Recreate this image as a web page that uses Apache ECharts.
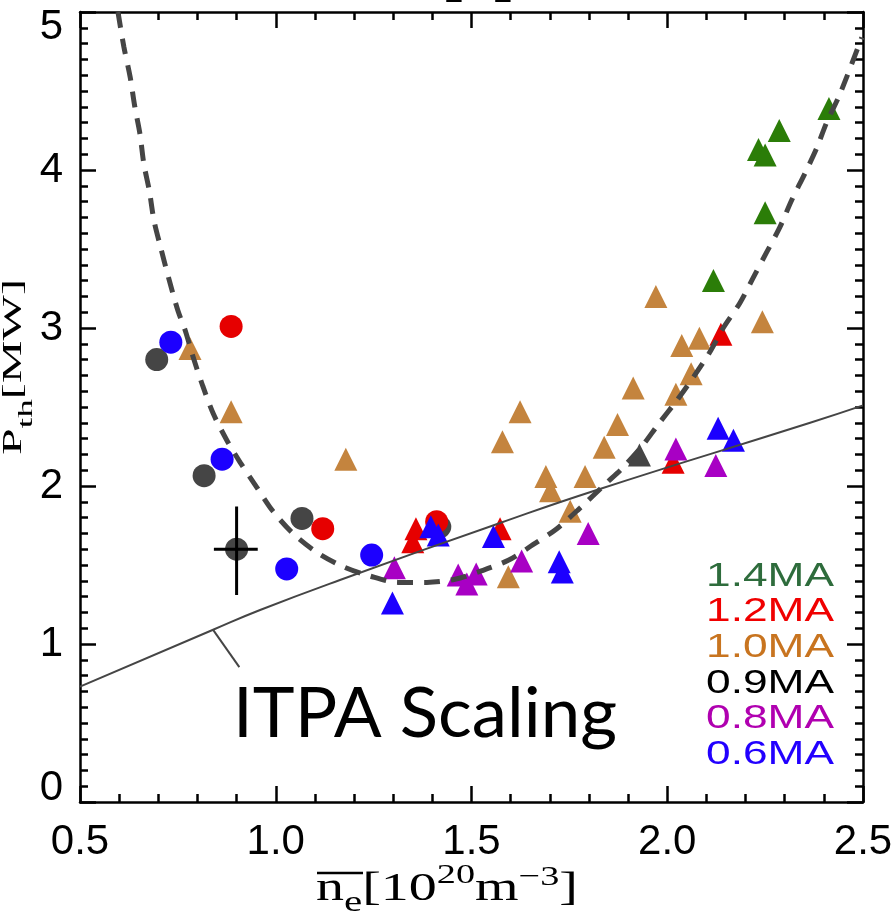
<!DOCTYPE html>
<html>
<head>
<meta charset="utf-8">
<script src="https://cdn.jsdelivr.net/npm/echarts@6/dist/echarts.min.js"></script>
<style>
  html, body { margin: 0; padding: 0; background: #ffffff; }
  #chart { width: 894px; height: 916px; }
</style>
</head>
<body>
<div id="chart"></div>
<script>
// ---- axes ----
const nTickLabels = ['0.5', '1.0', '1.5', '2.0', '2.5'];
const pTickLabels = ['0', '1', '2', '3', '4', '5'];

// ---- plasma current groups (legend text + colours) ----
const currents = ['1.4MA', '1.2MA', '1.0MA', '0.9MA', '0.8MA', '0.6MA'];
const currentTextColors = ['#2e6c3c', '#f00000', '#c8741f', '#000000', '#b000b0', '#2200ff'];
const green = '#2b7d08', red = '#e60000', orange = '#c4843e', dark = '#454545', magenta = '#a800c4', blue = '#1c00ff';

// ---- measured thresholds [density 1e20 m^-3, P_th MW] ----
const circ09 = [[0.696, 2.80], [0.817, 2.065], [0.900, 1.60], [1.067, 1.795], [1.419, 1.742]];
const circ12 = [[0.886, 3.01], [1.12, 1.73], [1.411, 1.774]];
const circ06 = [[0.732, 2.91], [0.863, 2.17], [1.028, 1.475], [1.245, 1.563]];

const tri10 = [[0.781, 2.87], [0.886, 2.47], [1.179, 2.17], [1.579, 2.28], [1.594, 1.426], [1.624, 2.47],
  [1.69, 2.06], [1.702, 1.97], [1.752, 1.84], [1.79, 2.06], [1.839, 2.245], [1.873, 2.39], [1.913, 2.62],
  [1.971, 3.20], [2.022, 2.58], [2.037, 2.89], [2.061, 2.71], [2.082, 2.935], [2.243, 3.04]];
const tri14 = [[2.118, 3.30], [2.233, 4.13], [2.25, 4.095], [2.25, 3.73], [2.286, 4.25], [2.413, 4.39]];
const tri12 = [[1.358, 1.73], [1.35, 1.647], [1.573, 1.73], [2.015, 2.15], [2.137, 2.96]];
const tri09 = [[1.929, 2.196]];
const tri08 = [[1.303, 1.483], [1.466, 1.437], [1.488, 1.38], [1.512, 1.443], [1.628, 1.525], [1.798, 1.70],
  [2.022, 2.234], [2.124, 2.13]];
const tri06 = [[1.298, 1.26], [1.396, 1.742], [1.415, 1.69], [1.556, 1.68], [1.724, 1.52], [1.732, 1.456],
  [2.13, 2.365], [2.169, 2.29]];

// error bars of the reference point
const errH = [[0.842, 1.60], [0.954, 1.60]];
const errV = [[0.900, 1.31], [0.900, 1.87]];

// ITPA scaling line and its label pointer
const itpaLine = [[0.5, 0.73], [0.84, 1.09], [0.96, 1.215], [1.164, 1.405], [1.573, 1.766], [1.82, 1.975],
  [2.365, 2.40], [2.5, 2.51]];
const itpaPointer = [[0.840, 1.089], [0.907, 0.854]];

// dashed U-shaped trend
const trendCurve = [[0.597, 5.0], [0.612, 4.78], [0.628, 4.59], [0.640, 4.40], [0.653, 4.23], [0.663, 4.04],
  [0.677, 3.87], [0.689, 3.68], [0.706, 3.51], [0.726, 3.32], [0.750, 3.11], [0.768, 2.99], [0.791, 2.80],
  [0.814, 2.63], [0.840, 2.46], [0.875, 2.29], [0.909, 2.15], [0.952, 1.99], [0.993, 1.84], [1.044, 1.70],
  [1.105, 1.58], [1.172, 1.49], [1.241, 1.43], [1.313, 1.39], [1.386, 1.39], [1.458, 1.41], [1.522, 1.46],
  [1.594, 1.53], [1.658, 1.63], [1.718, 1.73], [1.777, 1.86], [1.845, 2.02], [1.884, 2.11], [1.935, 2.25],
  [1.977, 2.39], [2.024, 2.54], [2.067, 2.69], [2.107, 2.84], [2.143, 3.00], [2.186, 3.16], [2.22, 3.32],
  [2.254, 3.48], [2.288, 3.64], [2.318, 3.81], [2.352, 3.98], [2.382, 4.14], [2.407, 4.30], [2.441, 4.48],
  [2.497, 4.84]];

// ---- text helpers ----
const SANS = '"Liberation Sans", Arial, Helvetica, sans-serif';
const SERIF = '"Liberation Serif", "Times New Roman", serif';
const LATO = 'Lato, "Open Sans", sans-serif';
const ctx2d = document.createElement('canvas').getContext('2d');
function advance(text, size, family, weight) {
  ctx2d.font = (weight || 'normal') + ' ' + size + 'px ' + family;
  return ctx2d.measureText(text).width;
}
// pieces laid out along one baseline (local y = 0), stretched to a run length
function textRun(pieces, family, length, color, weight, mid) {
  const widths = pieces.map(p => advance(p.text, p.size, family, weight));
  const total = widths.reduce((a, b) => a + b, 0);
  const s = length ? length / total : 1;
  let x = 0;
  return pieces.map((p, i) => {
    const el = {
      type: 'text', x: x + (p.dx || 0), y: (p.dy || 0) - mid * p.size, scaleX: s, silent: true,
      style: {
        text: p.text, fill: color, font: (weight || 'normal') + ' ' + p.size + 'px ' + family,
        align: 'left', verticalAlign: 'middle', textAlign: 'left', textVerticalAlign: 'middle'
      }
    };
    x += widths[i] * s;
    return el;
  });
}

const legendGraphics = currents.map((c, i) => ({
  type: 'group', x: 706, y: 588 + 35.6 * i,
  children: textRun([{ text: c, size: 33 }], SANS, 128, currentTextColors[i], 'normal', 0.34)
}));

const graphics = [
  // partly visible panel tag above the frame
  { type: 'group', x: 443, y: -6, children: textRun([{ text: '[a]', size: 58 }], SANS, 0, '#000', 'bold', 0.34) },
  // y axis title
  { type: 'group', x: 23, y: 455, rotation: Math.PI / 2,
    children: textRun([{ text: 'P', size: 27 }, { text: 'th', size: 21, dy: 10 }, { text: '[MW]', size: 27 }],
      SERIF, 176, '#000', 'normal', 0.33) },
  // x axis title
  { type: 'group', x: 316, y: 903,
    children: textRun([{ text: 'n', size: 41 }, { text: 'e', size: 30, dy: 10 }, { text: '[', size: 41 },
      { text: '10', size: 41 }, { text: '20', size: 28, dy: -18 }, { text: 'm', size: 41 },
      { text: '\u22123', size: 28, dy: -16 }, { text: ']', size: 41 }], SERIF, 262, '#000', 'normal', 0.33) },
  { type: 'line', silent: true, shape: { x1: 317, y1: 873, x2: 363, y2: 873 }, style: { stroke: '#000', lineWidth: 2.5 } },
  // scaling annotation
  { type: 'group', x: 233, y: 738, children: textRun([{ text: 'ITPA Scaling', size: 70 }], LATO, 384, '#000', 'normal', 0.34) }
].concat(legendGraphics);

// ---- chart ----
const chart = echarts.init(document.getElementById('chart'), null, { renderer: 'canvas' });

function scatter(data, symbol, color) {
  return {
    type: 'scatter', data: data, symbol: symbol, symbolSize: 23, z: 2, silent: true,
    itemStyle: { color: color, opacity: 1 }, emphasis: { disabled: true }
  };
}
function line(data, color, width, type, smooth, z) {
  return {
    type: 'line', data: data, symbol: 'none', smooth: smooth, silent: true, z: z, clip: true,
    lineStyle: { color: color, width: width, type: type, cap: 'butt' }, emphasis: { disabled: true }
  };
}

const axisBase = {
  type: 'value',
  axisLine: { show: true, onZero: false, lineStyle: { color: '#000', width: 2.5 } },
  axisTick: { show: true, inside: true, length: 16, lineStyle: { color: '#000', width: 2.5 } },
  minorTick: { show: true, length: 8, lineStyle: { color: '#000', width: 2.5 } },
  splitLine: { show: false },
  minorSplitLine: { show: false }
};

function yLabel(v) {
  const t = pTickLabels[Math.round(v)];
  if (v === 0) return '{bot|' + t + '}';
  if (v === 5) return '{top|' + t + '}';
  return '{n|' + t + '}';
}
const labelRich = {
  n: { fontFamily: SANS, fontSize: 42, color: '#000' },
  top: { fontFamily: SANS, fontSize: 42, color: '#000', padding: [30, 0, 0, 0] },
  bot: { fontFamily: SANS, fontSize: 42, color: '#000', padding: [0, 0, 28, 0] }
};

chart.setOption({
  animation: false,
  backgroundColor: '#ffffff',
  grid: { left: 80, top: 12, width: 783, height: 790, containLabel: false, outerBoundsMode: 'none' },
  xAxis: [
    Object.assign({}, axisBase, {
      position: 'bottom', min: 0.5, max: 2.5, interval: 0.5,
      minorTick: Object.assign({}, axisBase.minorTick, { splitNumber: 5 }),
      axisLabel: {
        show: true, margin: 19, color: '#000', fontFamily: SANS, fontSize: 42,
        formatter: v => nTickLabels[Math.round((v - 0.5) / 0.5)]
      }
    }),
    Object.assign({}, axisBase, {
      position: 'top', min: 0.5, max: 2.5, interval: 0.5,
      minorTick: Object.assign({}, axisBase.minorTick, { splitNumber: 5 }),
      axisLabel: { show: false }
    })
  ],
  yAxis: [
    Object.assign({}, axisBase, {
      position: 'left', min: 0, max: 5, interval: 1,
      minorTick: Object.assign({}, axisBase.minorTick, { splitNumber: 10 }),
      axisLabel: { show: true, margin: 17, formatter: yLabel, rich: labelRich }
    }),
    Object.assign({}, axisBase, {
      position: 'right', min: 0, max: 5, interval: 1,
      minorTick: Object.assign({}, axisBase.minorTick, { splitNumber: 10 }),
      axisLabel: { show: false }
    })
  ],
  series: [
    scatter(circ09, 'circle', dark),
    scatter(circ12, 'circle', red),
    scatter(circ06, 'circle', blue),
    scatter(tri10, 'triangle', orange),
    scatter(tri14, 'triangle', green),
    scatter(tri12, 'triangle', red),
    scatter(tri09, 'triangle', dark),
    scatter(tri08, 'triangle', magenta),
    scatter(tri06, 'triangle', blue),
    line(errH, '#000', 3, 'solid', false, 4),
    line(errV, '#000', 3, 'solid', false, 4),
    line(itpaLine, '#454545', 2, 'solid', true, 5),
    line(itpaPointer, '#454545', 2, 'solid', false, 5),
    line(trendCurve, '#454545', 5, [16, 11], 0.3, 6)
  ],
  graphic: graphics
});
</script>
</body>
</html>
